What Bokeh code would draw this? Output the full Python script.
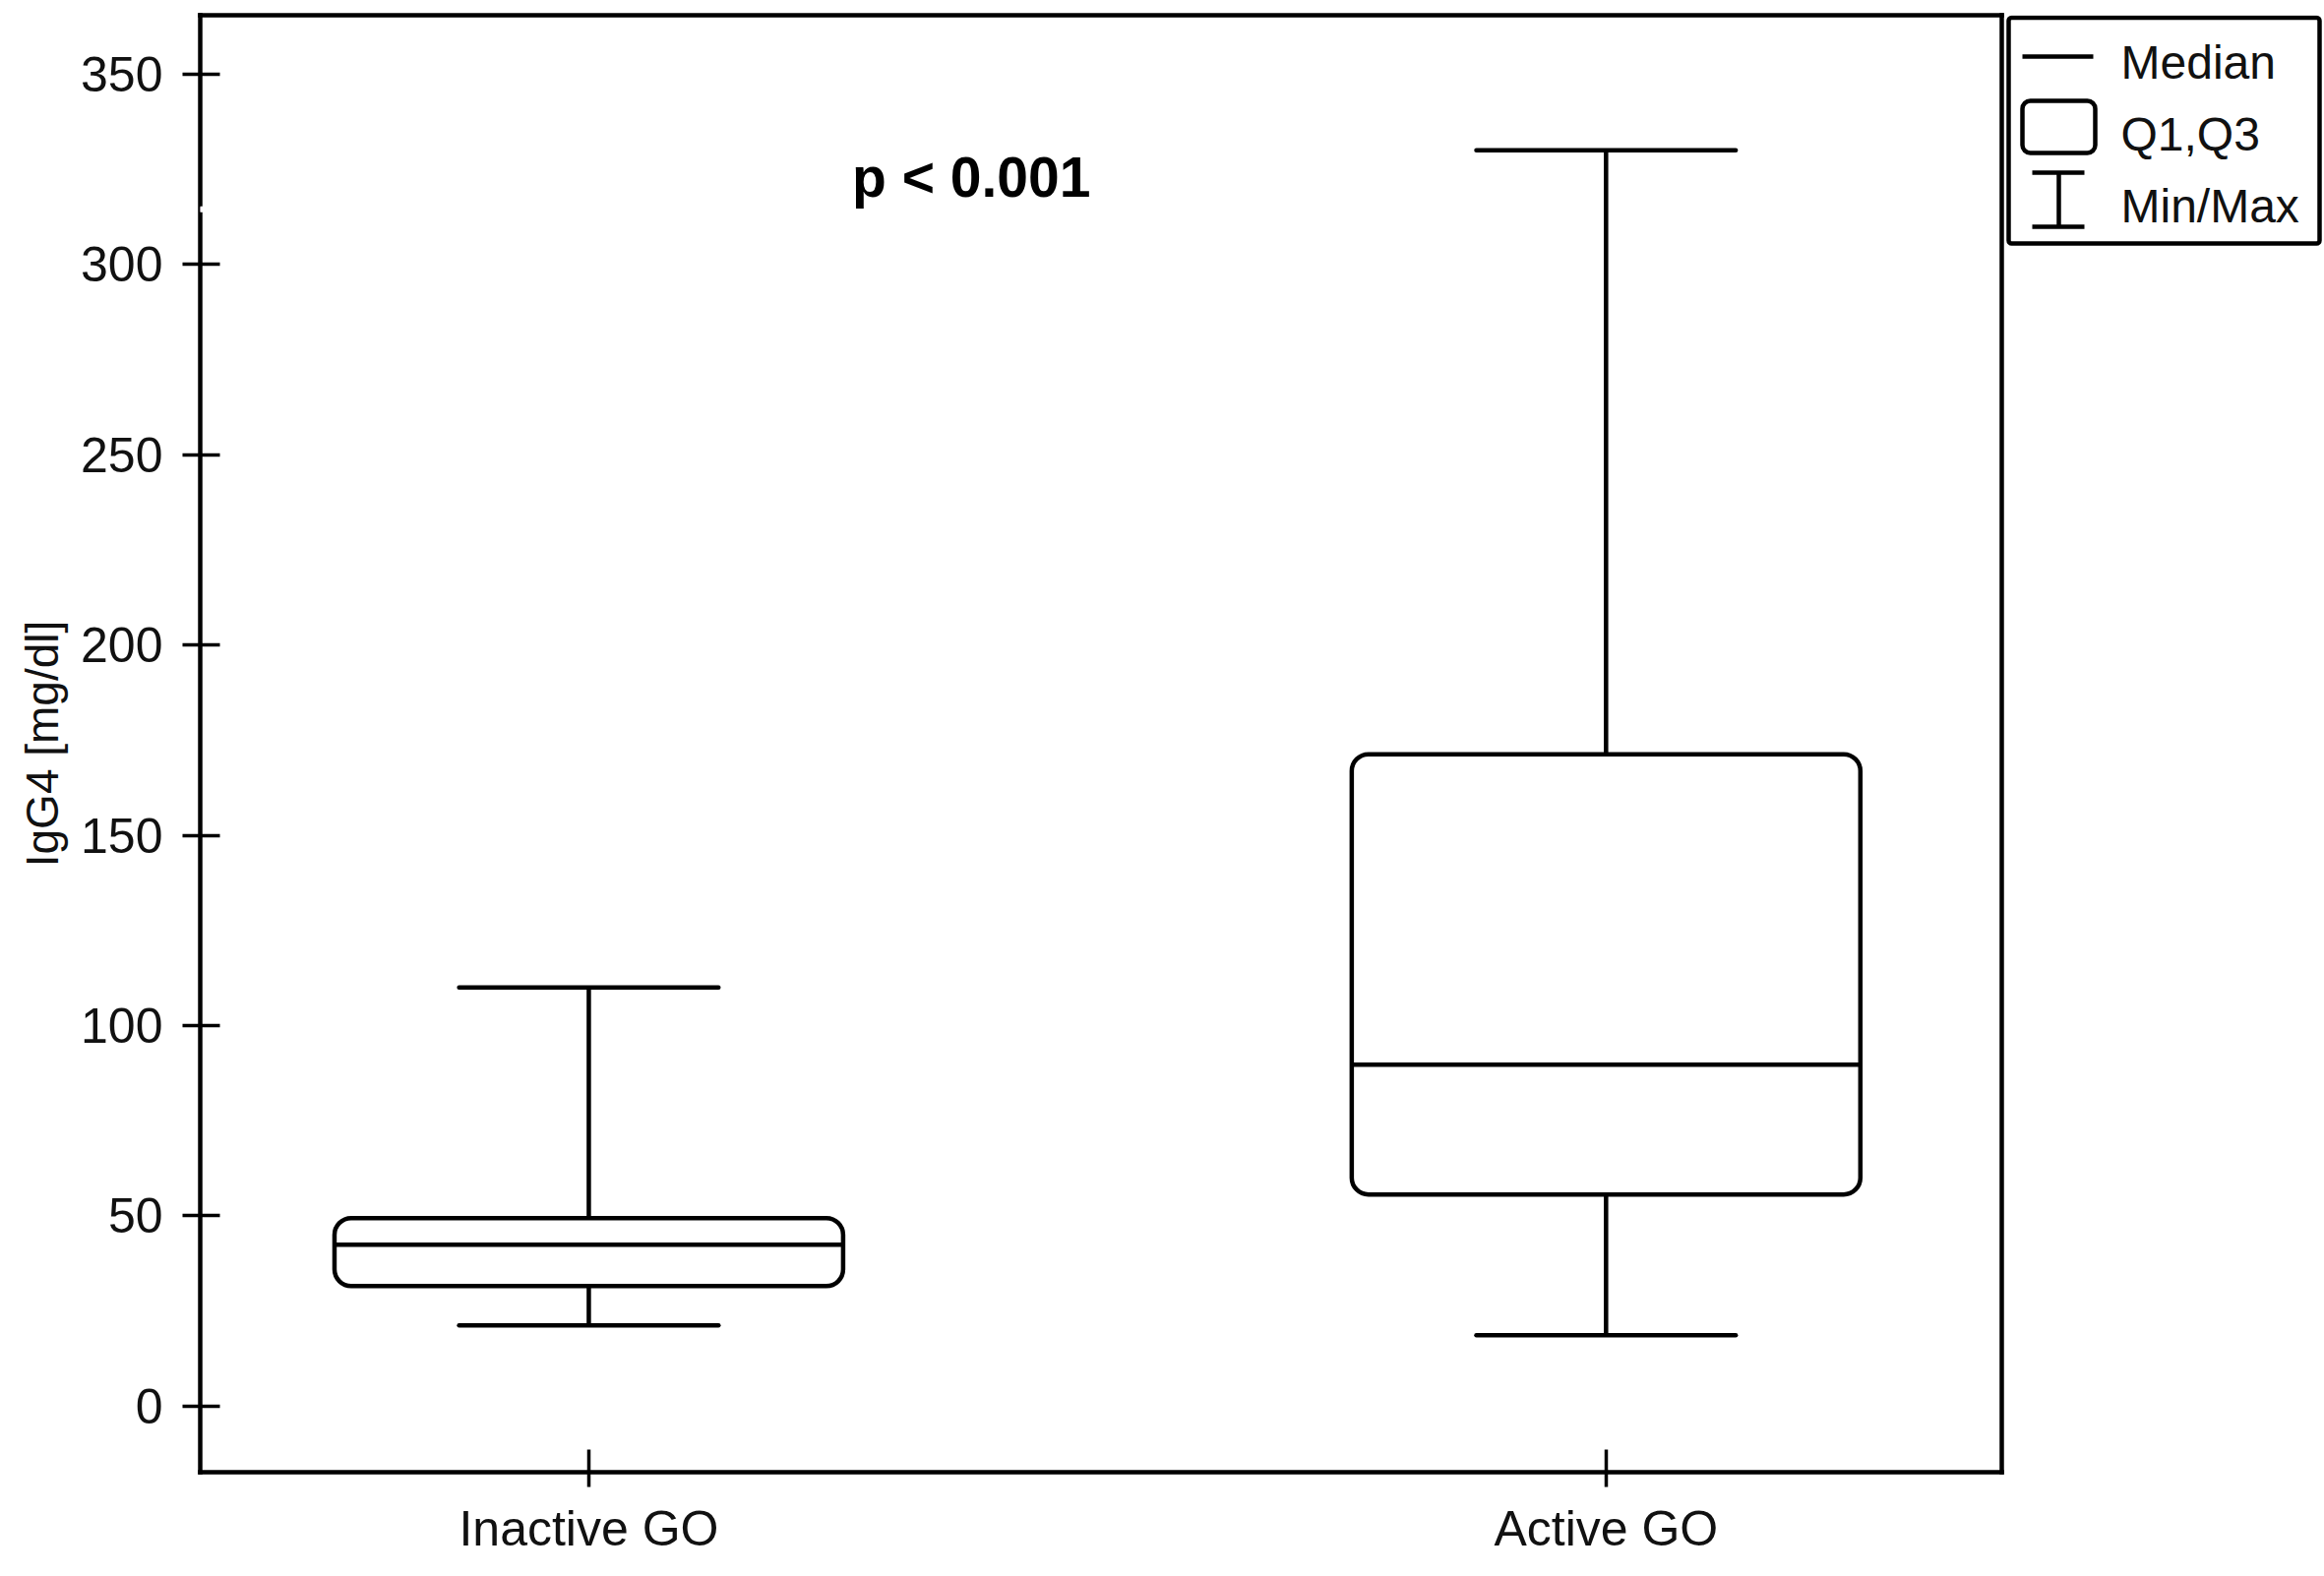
from bokeh.plotting import figure
from bokeh.models import Range1d, FixedTicker, LinearAxis, Label, ColumnDataSource
from bokeh.layouts import row
from bokeh.embed import file_html
from bokeh.resources import INLINE
from bokeh.core.properties import value

# ---------------- data ----------------
categories = ["Inactive GO", "Active GO"]
min_vals = [21.2, 18.6]
q1_vals = [31.5, 55.6]
median_vals = [42.4, 89.7]
q3_vals = [49.4, 171.3]
max_vals = [110.0, 330.0]
y_ticks = [0, 50, 100, 150, 200, 250, 300, 350]
y_label = "IgG4 [mg/dl]"
p_text = "p < 0.001"
legend_labels = ["Median", "Q1,Q3", "Min/Max"]

# ---------------- style ----------------
FONT = "Liberation Sans"
INK = "#111111"
LW = 4.5
BOX_W = 0.50
CAP_W = 0.255
X_START, X_END = 0.618, 2.389
Y_START, Y_END = -17.4, 365.5
P_X, P_Y = 1.376, 323
BREAK_Y = 314.5

FIG_H = 1588
BORDER_TOP, BORDER_BOTTOM = 15, 92

positions = [i + 1 for i in range(len(categories))]
src = ColumnDataSource(dict(
    x=positions,
    lo=min_vals, q1=q1_vals, med=median_vals, q3=q3_vals, hi=max_vals,
    bl=[x - BOX_W / 2 for x in positions], br=[x + BOX_W / 2 for x in positions],
    cl=[x - CAP_W / 2 for x in positions], cr=[x + CAP_W / 2 for x in positions],
))

p = figure(width=2037, height=FIG_H,
           x_range=Range1d(X_START, X_END), y_range=Range1d(Y_START, Y_END),
           x_axis_type=None, y_axis_type=None,
           output_backend="svg", toolbar_location=None,
           min_border_left=203, min_border_right=3,
           min_border_top=BORDER_TOP, min_border_bottom=BORDER_BOTTOM)
p.outline_line_color = None
p.background_fill_color = "white"
p.border_fill_color = "white"

# axes
yax = LinearAxis(ticker=FixedTicker(ticks=y_ticks), axis_label=y_label)
xax = LinearAxis(ticker=FixedTicker(ticks=positions),
                 major_label_overrides={pos: cat for pos, cat in zip(positions, categories)})
for ax in (yax, xax):
    ax.axis_line_color = "black"
    ax.axis_line_width = LW
    ax.axis_line_cap = "square"
    ax.major_tick_line_color = "black"
    ax.major_tick_line_width = 3.5
    ax.minor_tick_line_color = None
    ax.major_label_text_font = FONT
    ax.major_label_text_font_size = "50px"
    ax.major_label_text_color = INK
yax.major_tick_in = 20
yax.major_tick_out = 18
yax.major_label_standoff = 20
yax.axis_label_text_font = FONT
yax.axis_label_text_font_size = "46px"
yax.axis_label_text_font_style = "normal"
yax.axis_label_text_color = INK
yax.axis_label_standoff = 10
xax.major_tick_in = 23
xax.major_tick_out = 15
xax.major_label_standoff = 14
p.add_layout(yax, "left")
p.add_layout(xax, "below")

for loc in ("right", "above"):
    ax = LinearAxis(ticker=FixedTicker(ticks=[]))
    ax.axis_line_color = "black"
    ax.axis_line_width = LW
    ax.axis_line_cap = "square"
    ax.major_tick_line_color = None
    ax.minor_tick_line_color = None
    ax.major_label_text_font_size = "0px"
    p.add_layout(ax, loc)

# box plot
p.segment(x0="x", y0="q3", x1="x", y1="hi", source=src, line_color="black", line_width=LW)
p.segment(x0="x", y0="q1", x1="x", y1="lo", source=src, line_color="black", line_width=LW)
p.segment(x0="cl", y0="hi", x1="cr", y1="hi", source=src, line_color="black", line_width=LW, line_cap="round")
p.segment(x0="cl", y0="lo", x1="cr", y1="lo", source=src, line_color="black", line_width=LW, line_cap="round")
p.quad(left="bl", right="br", bottom="q1", top="q3", source=src, fill_color="white",
       line_color="black", line_width=LW, border_radius=17)
p.segment(x0="bl", y0="med", x1="br", y1="med", source=src, line_color="black", line_width=LW)

p.text(x=[P_X], y=[P_Y], text=[p_text], text_font=value(FONT), text_font_size="57px",
       text_font_style="bold", text_color="black", text_align="center", text_baseline="middle")

# axis break
brk = Label(x=X_START, y=BREAK_Y, text="MM", text_font_size="6px", text_color="white",
            background_fill_color="white", text_align="center", text_baseline="middle", level="overlay")
p.add_layout(brk)

# ---------------- legend panel (data units = page pixels) ----------------
LG_X0, LG_W = 2037, 325
lg = figure(width=LG_W, height=FIG_H,
            x_range=Range1d(LG_X0, LG_X0 + LG_W),
            y_range=Range1d(FIG_H - BORDER_BOTTOM, BORDER_TOP),
            x_axis_type=None, y_axis_type=None, output_backend="svg", toolbar_location=None,
            min_border_left=0, min_border_right=0,
            min_border_top=BORDER_TOP, min_border_bottom=BORDER_BOTTOM)
lg.outline_line_color = None
lg.background_fill_color = "white"
lg.border_fill_color = "white"

lg.quad(left=[2041], right=[2357], top=[17.5], bottom=[247], fill_color="white",
        line_color="black", line_width=LW, border_radius=3)
lg.segment(x0=[2055], y0=[57], x1=[2127], y1=[57], line_color="black", line_width=LW)
lg.quad(left=[2055], right=[2129], top=[102], bottom=[155], fill_color="white", line_color="black",
        line_width=LW, border_radius=8)
lg.segment(x0=[2092, 2065, 2065], y0=[175, 175, 230], x1=[2092, 2118, 2118], y1=[230, 175, 230],
           line_color="black", line_width=LW)
lg.text(x=[2155, 2155, 2155], y=[63, 136, 209], text=legend_labels, text_font=value(FONT),
        text_font_size="48px", text_color=INK, text_align="left", text_baseline="middle")

layout = row(p, lg)
open("out.html", "w").write(file_html(layout, INLINE))
